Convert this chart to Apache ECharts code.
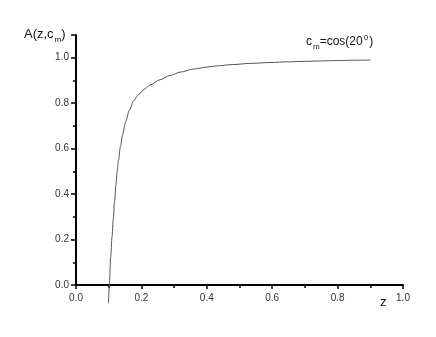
<!DOCTYPE html>
<html><head><meta charset="utf-8">
<script src="https://cdn.jsdelivr.net/npm/echarts@6/dist/echarts.min.js"></script>
<style>html,body{margin:0;padding:0;background:#fff}#c{width:436px;height:337px}</style>
</head><body><div id="c"></div>
<script>
var zValues = [0.0995, 0.102, 0.106, 0.110, 0.114, 0.118, 0.122, 0.126, 0.130, 0.136, 0.143, 0.152, 0.163, 0.176, 0.191, 0.210, 0.226, 0.257, 0.287, 0.320, 0.359, 0.400, 0.430, 0.480, 0.532, 0.593, 0.650, 0.700, 0.750, 0.800, 0.850, 0.900];
var aValues = [-0.08, 0.00, 0.12, 0.21, 0.29, 0.37, 0.44, 0.50, 0.55, 0.61, 0.665, 0.72, 0.768, 0.81, 0.838, 0.862, 0.880, 0.903, 0.922, 0.937, 0.950, 0.959, 0.964, 0.970, 0.975, 0.979, 0.982, 0.984, 0.986, 0.9875, 0.989, 0.990];
var xTicks = ['0.0','0.2','0.4','0.6','0.8','1.0'];
var yTicks = ['0.0','0.2','0.4','0.6','0.8','1.0'];

var data = zValues.map(function(z, i){ return [z, aValues[i]]; });
var font = '"Liberation Sans", Arial, sans-serif';
var chart = echarts.init(document.getElementById('c'), null, {renderer:'canvas'});
chart.setOption({
  animation: false,
  backgroundColor: '#fff',
  grid: {left: 76, right: 33, top: 35, bottom: 52, containLabel: false},
  xAxis: {
    type: 'value', min: 0, max: 1, interval: 0.2,
    axisLine: {show: true, lineStyle: {color: '#000', width: 2}},
    axisTick: {show: true, inside: false, length: 4, lineStyle: {color: '#000', width: 1.5}},
    minorTick: {show: true, splitNumber: 2, length: 3, lineStyle: {color: '#000', width: 1.5}},
    splitLine: {show: false},
    axisLabel: {fontFamily: font, fontSize: 10, color: '#333', margin: 8,
      formatter: function(v){ var i = Math.round(v/0.2); return (Math.abs(v - i*0.2) < 1e-6) ? xTicks[i] : ''; }}
  },
  yAxis: {
    type: 'value', min: 0, max: 1.1, interval: 0.2,
    axisLine: {show: true, lineStyle: {color: '#000', width: 2}},
    axisTick: {show: true, inside: false, length: 5, lineStyle: {color: '#000', width: 1.5}},
    minorTick: {show: true, splitNumber: 2, length: 3, lineStyle: {color: '#000', width: 1.5}},
    splitLine: {show: false},
    axisLabel: {fontFamily: font, fontSize: 10, color: '#333', margin: 7, showMaxLabel: false,
      formatter: function(v){ var i = Math.round(v/0.2); return (Math.abs(v - i*0.2) < 1e-6 && i < yTicks.length) ? yTicks[i] : ''; }}
  },
  series: [{
    type: 'line', data: data, showSymbol: false, clip: false,
    smooth: 0.3, smoothMonotone: 'x',
    lineStyle: {color: '#555', width: 1}
  }],
  graphic: [
    {type: 'text', left: 24, top: 28, style: {
      text: 'A(z,c{sub|m})', font: '13px ' + font, fill: '#111',
      rich: {sub: {fontSize: 8, fontFamily: font, padding: [10, 0, 0, 1]}}
    }},
    {type: 'text', left: 380, top: 296, style: {text: 'z', font: '13px ' + font, fill: '#111'}},
    {type: 'text', left: 306, top: 34, style: {
      text: 'c{sub|m}=cos(20{sup|0})', font: '12px ' + font, fill: '#111',
      rich: {sub: {fontSize: 8, fontFamily: font, padding: [9, 0, 0, 1]}, sup: {fontSize: 8, fontFamily: font, padding: [0, 1, 8, 1]}}
    }}
  ]
});
</script></body></html>
